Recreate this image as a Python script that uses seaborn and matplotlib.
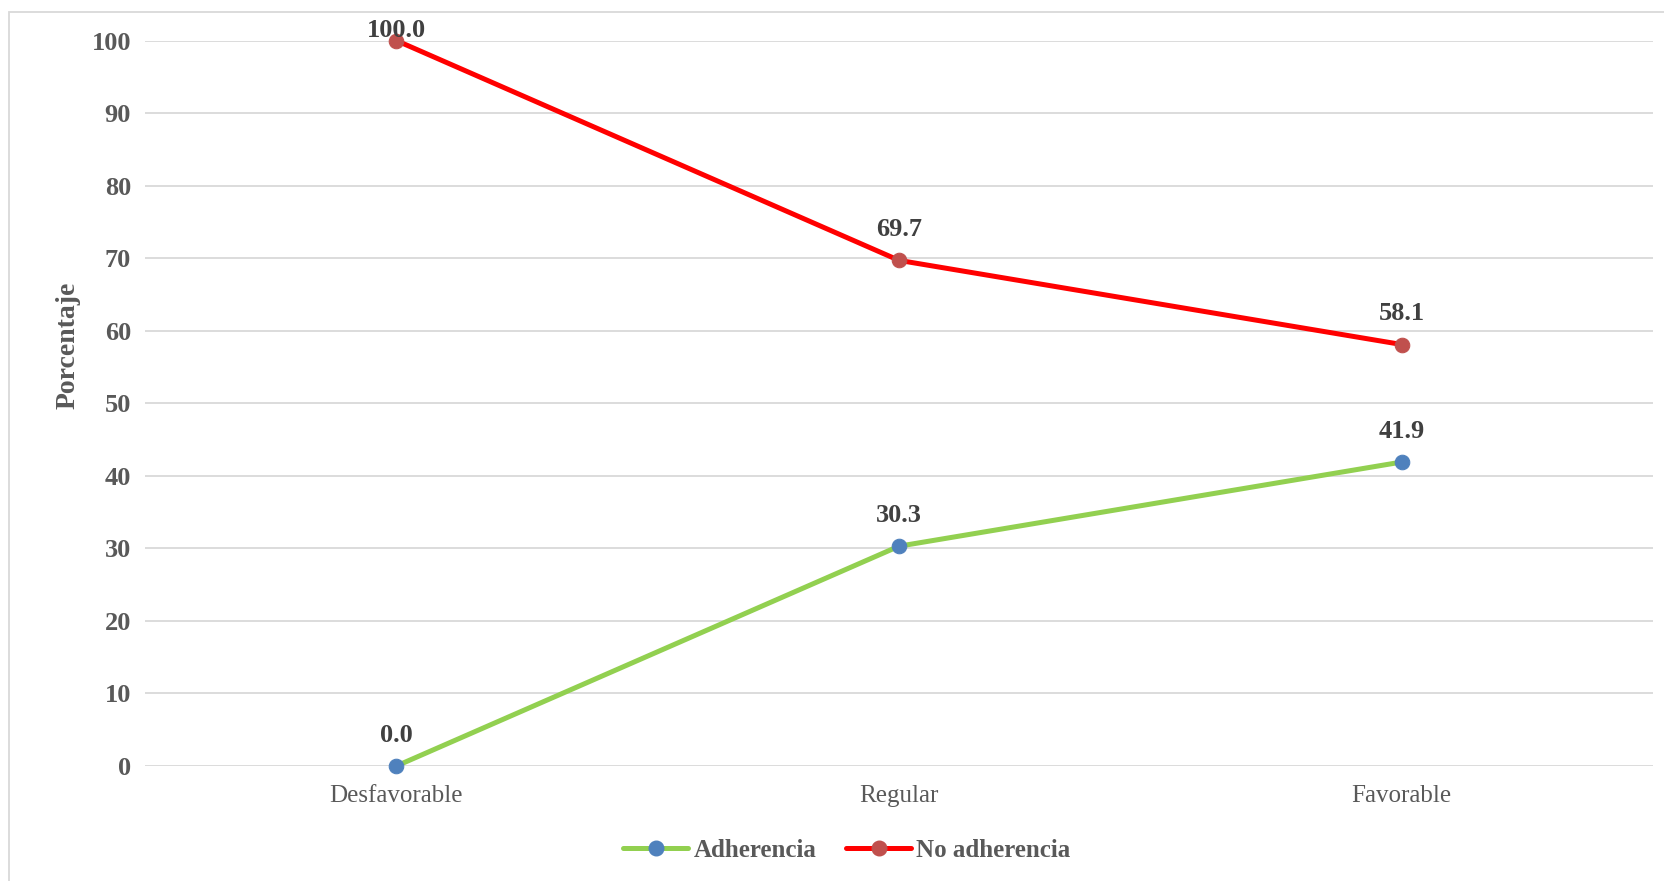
import matplotlib
matplotlib.use("Agg")
import matplotlib.pyplot as plt
import pandas as pd
import seaborn as sns
from matplotlib.lines import Line2D
from matplotlib.patches import Rectangle

categorias = ["Desfavorable", "Regular", "Favorable"]
adherencia = [0.0, 30.3, 41.9]
no_adherencia = [100.0, 69.7, 58.1]
series = ["Adherencia", "No adherencia"]

sns.set_theme(style="white")
plt.rcParams["font.family"] = ["Liberation Serif", "DejaVu Serif"]

df = pd.DataFrame({
    "categoria": categorias * 2,
    "valor": adherencia + no_adherencia,
    "serie": [series[0]] * 3 + [series[1]] * 3,
})

linea = {"Adherencia": "#92D050", "No adherencia": "#FF0000"}
punto = {"Adherencia": "#4F81BD", "No adherencia": "#C0504D"}

fig = plt.figure(figsize=(16.64, 8.81), dpi=100)
ax = fig.add_axes([0.0871, 0.1305, 0.9063, 0.8235])

for s in series:
    sns.lineplot(data=df[df["serie"] == s], x="categoria", y="valor", sort=False,
                 color=linea[s], linewidth=3.6, marker="o", markersize=10.5,
                 markerfacecolor=punto[s], markeredgecolor=punto[s], ax=ax,
                 zorder=3, clip_on=False)

# etiquetas de datos
for s in series:
    sub = df[df["serie"] == s].reset_index(drop=True)
    for i, r in sub.iterrows():
        dy = 7 if r["valor"] >= 99 else 22
        ax.annotate(f"{r['valor']:.1f}", (i, r["valor"]), xytext=(0, dy),
                    textcoords="offset points", ha="center", va="center",
                    fontsize=19, fontweight="bold", color="#404040", zorder=4)

ax.set_xlim(-0.5, 2.5)
ax.set_ylim(0, 100)
ax.set_yticks(range(0, 101, 10))
ax.grid(axis="y", color="#D9D9D9", linewidth=1.3)
ax.grid(axis="x", visible=False)
for sp in ax.spines.values():
    sp.set_visible(False)
ax.tick_params(axis="both", length=0)
ax.tick_params(axis="y", pad=10, labelsize=19, labelcolor="#595959")
ax.tick_params(axis="x", pad=14, labelsize=18, labelcolor="#595959")
for t in ax.get_yticklabels():
    t.set_fontweight("bold")
ax.set_xlabel("")
ax.set_ylabel("Porcentaje", fontsize=20, fontweight="bold", color="#595959")
ax.yaxis.set_label_coords(-0.043, 0.58)

handles = [Line2D([0], [0], color=linea[s], linewidth=3.6, marker="o", markersize=10.5,
                  markerfacecolor=punto[s], markeredgecolor=punto[s]) for s in series]
fig.legend(handles, series, loc="center", bbox_to_anchor=(0.509, 0.035), ncol=2,
           frameon=False, handlelength=2.6, handletextpad=0.2, columnspacing=1.2,
           prop={"size": 18, "weight": "bold"}, labelcolor="#595959")

fig.patches.append(Rectangle((9 / 1664, -0.05), 1.2, 1.05 - 12 / 881,
                             transform=fig.transFigure, fill=False,
                             edgecolor="#D9D9D9", linewidth=1.3))

fig.savefig("out.png", dpi=100, facecolor="white")
